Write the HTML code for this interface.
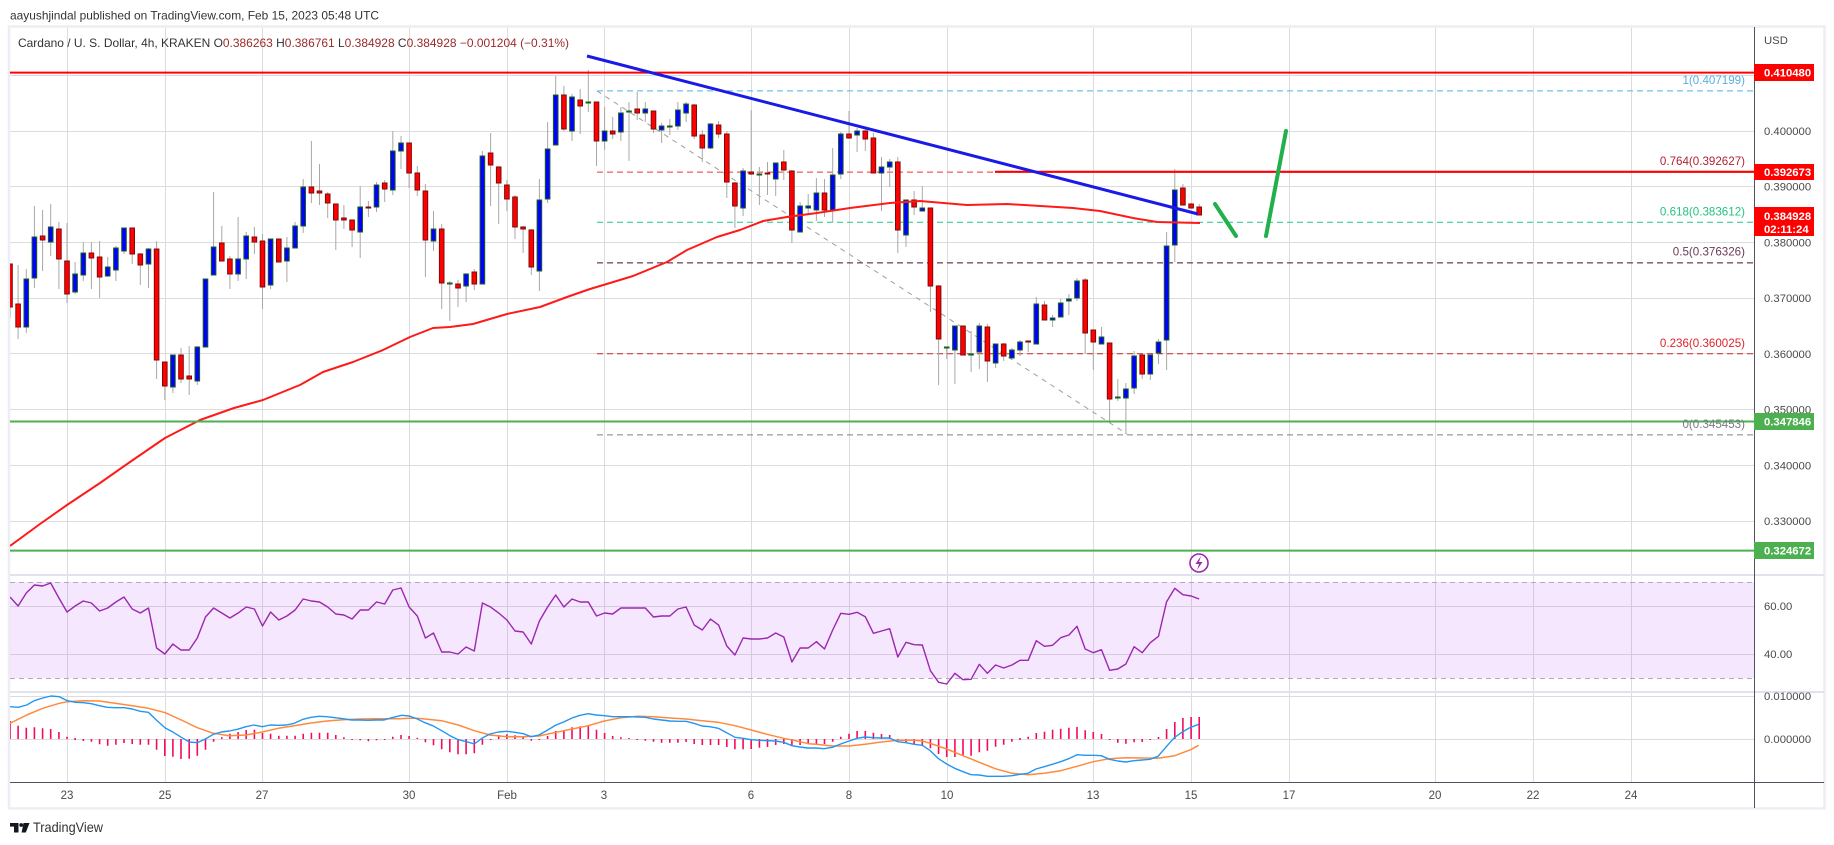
<!DOCTYPE html>
<html><head><meta charset="utf-8"><style>
html,body{margin:0;padding:0;background:#fff;overflow:hidden;}
svg{display:block;font-family:"Liberation Sans",Arial,sans-serif;}
</style></head><body>
<svg width="1834" height="845" viewBox="0 0 1834 845" xmlns="http://www.w3.org/2000/svg">
<defs>
<clipPath id="mainclip"><rect x="10" y="28" width="1744" height="547"/></clipPath>
<clipPath id="rsiclip"><rect x="10" y="576" width="1744" height="115"/></clipPath>
<clipPath id="macdclip"><rect x="10" y="693" width="1744" height="89"/></clipPath>
</defs>
<rect width="1834" height="845" fill="#fff"/>
<text x="10" y="19.5" font-size="11.6" fill="#333" textLength="369" lengthAdjust="spacingAndGlyphs">aayushjindal published on TradingView.com, Feb 15, 2023 05:48 UTC</text>
<rect x="9" y="26.5" width="1815.5" height="782" fill="none" stroke="#eceef3" stroke-width="2.5"/>
<g stroke="#dcdcdc" stroke-width="1">
<line x1="10" y1="75.5" x2="1754" y2="75.5"/><line x1="10" y1="131.5" x2="1754" y2="131.5"/><line x1="10" y1="186.5" x2="1754" y2="186.5"/><line x1="10" y1="242.5" x2="1754" y2="242.5"/><line x1="10" y1="298.5" x2="1754" y2="298.5"/><line x1="10" y1="353.5" x2="1754" y2="353.5"/><line x1="10" y1="409.5" x2="1754" y2="409.5"/><line x1="10" y1="465.5" x2="1754" y2="465.5"/><line x1="10" y1="521.5" x2="1754" y2="521.5"/>
<line x1="10" y1="606.5" x2="1754" y2="606.5"/><line x1="10" y1="654.5" x2="1754" y2="654.5"/><line x1="10" y1="696.5" x2="1754" y2="696.5"/><line x1="10" y1="739.5" x2="1754" y2="739.5"/>
<line x1="67.5" y1="28" x2="67.5" y2="782"/><line x1="165.5" y1="28" x2="165.5" y2="782"/><line x1="262.5" y1="28" x2="262.5" y2="782"/><line x1="409.5" y1="28" x2="409.5" y2="782"/><line x1="507.5" y1="28" x2="507.5" y2="782"/><line x1="604.5" y1="28" x2="604.5" y2="782"/><line x1="751.5" y1="28" x2="751.5" y2="782"/><line x1="849.5" y1="28" x2="849.5" y2="782"/><line x1="947.5" y1="28" x2="947.5" y2="782"/><line x1="1093.5" y1="28" x2="1093.5" y2="782"/><line x1="1191.5" y1="28" x2="1191.5" y2="782"/><line x1="1289.5" y1="28" x2="1289.5" y2="782"/><line x1="1435.5" y1="28" x2="1435.5" y2="782"/><line x1="1533.5" y1="28" x2="1533.5" y2="782"/><line x1="1631.5" y1="28" x2="1631.5" y2="782"/>
</g>
<rect x="10" y="582" width="1744" height="96" fill="rgba(170,60,240,0.12)"/>
<g stroke="#b4a8bc" stroke-width="1" stroke-dasharray="5,4">
<line x1="10" y1="582.5" x2="1754" y2="582.5"/><line x1="10" y1="678.5" x2="1754" y2="678.5"/>
</g>
<g stroke="#e0e3eb" stroke-width="2">
<line x1="10" y1="575" x2="1824" y2="575"/><line x1="10" y1="692" x2="1824" y2="692"/>
</g>
<line x1="1754.5" y1="27" x2="1754.5" y2="808" stroke="#50535e" stroke-width="1"/>
<line x1="10" y1="782.5" x2="1824" y2="782.5" stroke="#50535e" stroke-width="1"/>
<g clip-path="url(#mainclip)" fill="none" stroke-width="1" stroke-dasharray="6,4">
<line x1="597" y1="90.9" x2="1754" y2="90.9" stroke="#4fb3e8"/>
<line x1="597" y1="172.1" x2="1754" y2="172.1" stroke="#e53935"/>
<line x1="597" y1="222.3" x2="1754" y2="222.3" stroke="#22c48f"/>
<line x1="597" y1="262.9" x2="1754" y2="262.9" stroke="#4a0f2a"/>
<line x1="597" y1="353.7" x2="1754" y2="353.7" stroke="#c62828"/>
<line x1="597" y1="434.9" x2="1754" y2="434.9" stroke="#808080"/>
<line x1="597" y1="91" x2="1127" y2="434" stroke="#9e9e9e" stroke-dasharray="5,5"/>
</g>
<g clip-path="url(#mainclip)">
<path fill="none" stroke="#a8a8a8" stroke-width="1" d="M10 264V318M18.1 265V339M26.3 269V333M34.4 206V288M42.6 210V271M50.7 204V256M58.9 222V289M67 223V303M75.1 262V294M83.3 242V281M91.4 242V289M99.6 241V298M107.7 257V277M115.9 246V281M124 228V254M132.2 228V264M140.3 253V285M148.5 248V288M156.6 241V379M164.8 362V400M172.9 355V393M181 348V383M189.2 346V395M197.3 346V385M205.5 279V347M213.6 192V275M221.8 226V261M229.9 256V289M238.1 217V281M246.2 232V279M254.4 227V254M262.5 234V309M270.6 239V289M278.8 239V262M286.9 237V282M295.1 222V248M303.2 179V233M311.4 141V203M319.5 164V205M327.7 192V218M335.8 204V250M343.9 205V229M352.1 220V247M360.2 186V258M368.4 201V217M376.5 182V212M384.7 180V202M392.8 131V195M401 136V169M409.1 143V188M417.3 166V196M425.4 184V277M433.5 211V251M441.7 224V309M449.8 281V321M458 280V307M466.1 273V302M474.3 269V290M482.4 151V284M490.6 133V206M498.7 166V224M506.9 180V211M515 195V239M523.1 226V253M531.3 229V275M539.4 179V291M547.6 122V203M555.7 76V145M563.9 86V131M572 94V141M580.2 89V134M588.3 70V112M596.5 102V166M604.6 107V150M612.7 117V139M620.9 107V141M629 102V161M637.2 92V120M645.3 102V122M653.5 111V133M661.6 123V143M669.8 119V135M677.9 102V130M686.1 102V122M694.2 104V139M702.3 130V162M710.5 123V149M718.6 121V138M726.8 131V198M734.9 182V228M743.1 168V216M751.2 110V175M759.4 167V205M767.5 162V195M775.7 163V196M783.8 150V180M791.9 170V243M800.1 202V232M808.2 194V213M816.4 178V221M824.5 179V217M832.7 148V222M840.8 132V179M849 111V139M857.1 128V152M865.3 129V151M873.4 133V173M881.5 157V211M889.7 159V187M897.8 157V253M906 200V247M914.1 191V215M922.3 186V211M930.4 208V312M938.6 285V385M946.7 347V359M954.9 326V384M963 326V355M971.1 331V372M979.3 323V369M987.4 324V382M995.6 344V368M1003.7 343V361M1011.9 348V358M1020 340V356M1028.2 341V352M1036.3 297V344M1044.5 301V320M1052.6 315V327M1060.7 299V317M1068.9 294V315M1077 278V301M1085.2 278V354M1093.3 330V370M1101.5 327V344M1109.6 343V422M1117.8 379V401M1125.9 383V434M1134.1 351V394M1142.2 355V379M1150.3 355V380M1158.5 339V364M1166.6 232V370M1174.8 169V262M1182.9 184V205M1191.1 203V208M1199.2 204V215"/>
<path fill="#0000ff" stroke="#1b5e20" stroke-width="1" d="M24.0 279h4.6v48h-4.6zM32.1 237h4.6v41h-4.6zM48.4 227h4.6v15h-4.6zM72.8 274h4.6v18h-4.6zM81.0 253h4.6v22h-4.6zM105.4 267h4.6v9h-4.6zM113.6 248h4.6v22h-4.6zM121.7 228h4.6v23h-4.6zM146.2 249h4.6v15h-4.6zM170.6 355h4.6v32h-4.6zM195.0 347h4.6v34h-4.6zM203.2 279h4.6v68h-4.6zM211.3 247h4.6v28h-4.6zM235.8 259h4.6v15h-4.6zM243.9 236h4.6v23h-4.6zM268.3 239h4.6v46h-4.6zM284.6 248h4.6v13h-4.6zM292.8 226h4.6v22h-4.6zM300.9 187h4.6v39h-4.6zM357.9 207h4.6v25h-4.6zM374.2 185h4.6v22h-4.6zM390.5 151h4.6v39h-4.6zM398.7 143h4.6v8h-4.6zM431.2 229h4.6v12h-4.6zM447.5 283h4.6v1h-4.6zM463.8 274h4.6v12h-4.6zM480.1 156h4.6v128h-4.6zM537.1 200h4.6v71h-4.6zM545.3 149h4.6v50h-4.6zM553.4 95h4.6v50h-4.6zM569.7 97h4.6v34h-4.6zM586.0 102h4.6v1h-4.6zM602.3 131h4.6v10h-4.6zM618.6 113h4.6v19h-4.6zM626.7 111h4.6v1h-4.6zM643.0 109h4.6v4h-4.6zM659.3 126h4.6v4h-4.6zM667.5 126h4.6v1h-4.6zM675.6 110h4.6v16h-4.6zM683.8 104h4.6v9h-4.6zM708.2 124h4.6v24h-4.6zM740.8 171h4.6v37h-4.6zM757.1 174h4.6v1h-4.6zM773.4 163h4.6v16h-4.6zM797.8 206h4.6v26h-4.6zM805.9 206h4.6v2h-4.6zM814.1 193h4.6v17h-4.6zM830.4 175h4.6v35h-4.6zM838.5 134h4.6v40h-4.6zM854.8 131h4.6v4h-4.6zM879.2 167h4.6v6h-4.6zM887.4 162h4.6v5h-4.6zM903.7 200h4.6v35h-4.6zM920.0 208h4.6v3h-4.6zM944.4 347h4.6v1h-4.6zM952.6 326h4.6v24h-4.6zM968.8 354h4.6v1h-4.6zM977.0 326h4.6v26h-4.6zM993.3 344h4.6v19h-4.6zM1009.6 350h4.6v8h-4.6zM1017.7 342h4.6v8h-4.6zM1034.0 304h4.6v40h-4.6zM1050.3 318h4.6v2h-4.6zM1058.4 303h4.6v14h-4.6zM1066.6 299h4.6v2h-4.6zM1074.7 281h4.6v17h-4.6zM1099.2 337h4.6v7h-4.6zM1115.5 397h4.6v1h-4.6zM1123.6 389h4.6v9h-4.6zM1131.8 356h4.6v32h-4.6zM1148.0 355h4.6v19h-4.6zM1156.2 342h4.6v11h-4.6zM1164.3 246h4.6v94h-4.6zM1172.5 190h4.6v55h-4.6z"/>
<path fill="#ff0000" stroke="#7f0a0a" stroke-width="1" d="M7.7 264h4.6v43h-4.6zM15.8 304h4.6v23h-4.6zM40.3 236h4.6v4h-4.6zM56.6 229h4.6v30h-4.6zM64.7 261h4.6v33h-4.6zM89.1 253h4.6v5h-4.6zM97.3 257h4.6v20h-4.6zM129.9 228h4.6v26h-4.6zM138.0 254h4.6v11h-4.6zM154.3 249h4.6v111h-4.6zM162.5 362h4.6v24h-4.6zM178.7 355h4.6v24h-4.6zM186.9 376h4.6v3h-4.6zM219.5 243h4.6v18h-4.6zM227.6 259h4.6v15h-4.6zM252.1 237h4.6v5h-4.6zM260.2 241h4.6v46h-4.6zM276.5 239h4.6v23h-4.6zM309.1 187h4.6v6h-4.6zM317.2 191h4.6v2h-4.6zM325.4 194h4.6v9h-4.6zM333.5 204h4.6v16h-4.6zM341.6 218h4.6v2h-4.6zM349.8 220h4.6v10h-4.6zM366.1 207h4.6v1h-4.6zM382.4 183h4.6v6h-4.6zM406.8 143h4.6v30h-4.6zM415.0 173h4.6v17h-4.6zM423.1 191h4.6v49h-4.6zM439.4 229h4.6v54h-4.6zM455.7 284h4.6v4h-4.6zM472.0 272h4.6v12h-4.6zM488.3 153h4.6v12h-4.6zM496.4 167h4.6v16h-4.6zM504.6 185h4.6v14h-4.6zM512.7 197h4.6v30h-4.6zM520.8 227h4.6v2h-4.6zM529.0 230h4.6v37h-4.6zM561.6 95h4.6v34h-4.6zM577.9 100h4.6v6h-4.6zM594.2 102h4.6v39h-4.6zM610.4 131h4.6v3h-4.6zM634.9 109h4.6v4h-4.6zM651.2 111h4.6v18h-4.6zM691.9 105h4.6v31h-4.6zM700.0 135h4.6v13h-4.6zM716.3 125h4.6v9h-4.6zM724.5 134h4.6v48h-4.6zM732.6 183h4.6v23h-4.6zM748.9 172h4.6v2h-4.6zM765.2 173h4.6v1h-4.6zM781.5 162h4.6v8h-4.6zM789.6 171h4.6v59h-4.6zM822.2 193h4.6v17h-4.6zM846.7 134h4.6v4h-4.6zM863.0 131h4.6v8h-4.6zM871.1 138h4.6v35h-4.6zM895.5 162h4.6v68h-4.6zM911.8 200h4.6v7h-4.6zM928.1 208h4.6v78h-4.6zM936.3 286h4.6v53h-4.6zM960.7 326h4.6v29h-4.6zM985.1 327h4.6v34h-4.6zM1001.4 344h4.6v12h-4.6zM1025.9 341h4.6v1h-4.6zM1042.2 305h4.6v15h-4.6zM1082.9 280h4.6v53h-4.6zM1091.0 330h4.6v12h-4.6zM1107.3 343h4.6v56h-4.6zM1139.9 355h4.6v19h-4.6zM1180.6 188h4.6v17h-4.6zM1188.8 204h4.6v4h-4.6zM1196.9 207h4.6v8h-4.6z"/>
<polyline fill="none" stroke="#ff1a1a" stroke-width="2" stroke-linejoin="round" points="10,546 40,524 67,505 100,483 130,462 165,438 200,420 234,408 263,400 290,389 300,385 323,372 353,362 383,350 410,337 433,328 450,327 473,324 507,314 540,307 567,297 590,289 610,283 633,276 667,262 687,250 717,237 740,230 763,221 787,217 817,213 850,208 890,203 920,201 967,205 1007,204 1073,208 1100,211 1133,218 1157,222 1200,223"/>
<line x1="10" y1="72.6" x2="1754" y2="72.6" stroke="#ff0000" stroke-width="2"/>
<line x1="995" y1="171.8" x2="1754" y2="171.8" stroke="#ff0000" stroke-width="2.2"/>
<line x1="10" y1="421.5" x2="1754" y2="421.5" stroke="#4caf50" stroke-width="2"/>
<line x1="10" y1="550.6" x2="1754" y2="550.6" stroke="#4caf50" stroke-width="2"/>
<line x1="587" y1="56" x2="1198" y2="214" stroke="#1a1ae6" stroke-width="3"/>
<line x1="1215" y1="204" x2="1236" y2="236" stroke="#22b04d" stroke-width="4" stroke-linecap="round"/>
<line x1="1266" y1="236" x2="1286" y2="131" stroke="#22b04d" stroke-width="4" stroke-linecap="round"/>
</g>
<g clip-path="url(#rsiclip)">
<polyline fill="none" stroke="#9c27b0" stroke-width="1.4" stroke-linejoin="round" points="10,597 18.1,606 26.3,593 34.4,585 42.6,586 50.7,583 58.9,598 67,612 75.1,606 83.3,601 91.4,603 99.6,611 107.7,608 115.9,602 124,597 132.2,609 140.3,613 148.5,608 156.6,648 164.8,654 172.9,644 181,650 189.2,650 197.3,638 205.5,617 213.6,608 221.8,613 229.9,618 238.1,613 246.2,607 254.4,609 262.5,626 270.6,612 278.8,620 286.9,616 295.1,610 303.2,599 311.4,601 319.5,602 327.7,607 335.8,614 343.9,615 352.1,619 360.2,610 368.4,610 376.5,602 384.7,604 392.8,590 401,588 409.1,607 417.3,616 425.4,638 433.5,633 441.7,652 449.8,652 458,654 466.1,647 474.3,651 482.4,603 490.6,607 498.7,613 506.9,620 515,631 523.1,632 531.3,644 539.4,621 547.6,607 555.7,595 563.9,607 572,599 580.2,602 588.3,602 596.5,616 604.6,613 612.7,614 620.9,608 629,608 637.2,608 645.3,608 653.5,617 661.6,616 669.8,616 677.9,609 686.1,607 694.2,625 702.3,630 710.5,619 718.6,625 726.8,646 734.9,655 743.1,638 751.2,639 759.4,639 767.5,638 775.7,633 783.8,637 791.9,662 800.1,648 808.2,648 816.4,641.7 824.5,649 832.7,630 840.8,613.3 849,614.3 857.1,612.3 865.3,616.7 873.4,633.3 881.5,631 889.7,628.7 897.8,657 906,642.3 914.1,644.7 922.3,645 930.4,670.7 938.6,682.3 946.7,684 954.9,673.3 963,679.7 971.1,679.3 979.3,664.3 987.4,673.3 995.6,665 1003.7,668 1011.9,665 1020,660.3 1028.2,660.3 1036.3,640.7 1044.5,646.3 1052.6,645.3 1060.7,637.7 1068.9,635 1077,626.3 1085.2,649 1093.3,652.7 1101.5,649.7 1109.6,670.3 1117.8,669 1125.9,664 1134.1,646.7 1142.2,652.7 1150.3,642.7 1158.5,636.3 1166.6,601.7 1174.8,588.3 1182.9,594.7 1191.1,596 1199.2,599"/>
</g>
<g clip-path="url(#macdclip)">
<path fill="none" stroke="#f50a5f" stroke-width="1.6" d="M10 721V739M18.1 725.7V739M26.3 727.7V739M34.4 727.3V739M42.6 728.3V739M50.7 729V739M58.9 732V739M67 736.7V739M75.1 738V740M83.3 739V741M91.4 739V741.7M99.6 739V744.3M107.7 739V745.7M115.9 739V744.7M124 739V743M132.2 739V744M140.3 739V744.7M148.5 739V744.7M156.6 739V749.7M164.8 739V756M172.9 739V756.7M181 739V759M189.2 739V758.7M197.3 739V755.7M205.5 739V749.7M213.6 739V741.7M221.8 737.3V739M229.9 733.7V739M238.1 732V739M246.2 730V739M254.4 729.7V739M262.5 733V739M270.6 733.7V739M278.8 735.7V739M286.9 735.7V739M295.1 735.7V739M303.2 733.7V739M311.4 732.7V739M319.5 732.7V739M327.7 732.7V739M335.8 735V739M343.9 737.3V739M352.1 739V740M360.2 739V740.3M368.4 739V741.3M376.5 739V740.3M384.7 739V740M392.8 736.7V739M401 735V739M409.1 736V739M417.3 737.7V739M425.4 739V742.3M433.5 739V745.3M441.7 739V749.3M449.8 739V752.3M458 739V754.3M466.1 739V754.3M474.3 739V753.3M482.4 739V744.7M490.6 739V740M498.7 735V739M506.9 734.3V739M515 735.3V739M523.1 736V739M531.3 739V740.7M539.4 739V740M547.6 736V739M555.7 731V739M563.9 730V739M572 727.3V739M580.2 726.3V739M588.3 725.7V739M596.5 729.7V739M604.6 733V739M612.7 736V739M620.9 737.3V739M629 738V739M637.2 739V740M645.3 739V740.7M653.5 739V741.7M661.6 739V742.7M669.8 739V742.7M677.9 739V742.7M686.1 739V742M694.2 739V744M702.3 739V745M710.5 739V745M718.6 739V745M726.8 739V747M734.9 739V749.3M743.1 739V749.3M751.2 739V749M759.4 739V747.7M767.5 739V747M775.7 739V745M783.8 739V744M791.9 739V746M800.1 739V745M808.2 739V744.3M816.4 739V744.3M824.5 739V744M832.7 739V741.7M840.8 736.7V739M849 733.7V739M857.1 731V739M865.3 731V739M873.4 732.7V739M881.5 734V739M889.7 735V739M897.8 739V740.7M906 739V742.3M914.1 739V744.3M922.3 739V745M930.4 739V748.3M938.6 739V754M946.7 739V757M954.9 739V757M963 739V756M971.1 739V755.7M979.3 739V752.3M987.4 739V750.7M995.6 739V746.7M1003.7 739V744.7M1011.9 739V741.7M1020 738V740M1028.2 736.7V739M1036.3 733V739M1044.5 731.7V739M1052.6 729.7V739M1060.7 728.7V739M1068.9 727.7V739M1077 727V739M1085.2 730.3V739M1093.3 732V739M1101.5 734V739M1109.6 739V740M1117.8 739V742.7M1125.9 739V743.7M1134.1 739V742.3M1142.2 739V742M1150.3 739V740M1158.5 737V739M1166.6 729V739M1174.8 722V739M1182.9 718V739M1191.1 717V739M1199.2 717V739"/>
<polyline fill="none" stroke="#ff8a3d" stroke-width="1.5" stroke-linejoin="round" points="10,723.3 26.7,715 42.7,708.3 59.3,703.3 67.3,701.7 83.3,700.7 99.3,701 115.3,703.3 132.3,705.7 148.3,708.3 165.3,712.7 181.3,720 197.3,727.7 213.3,733.3 229.3,735.7 246,735 262.3,732 278.3,728.3 294.3,725.7 311,723 327,721 343,719.7 360,719 376,718.7 392,718.7 400,718.7 409.3,718.3 417.3,718.3 425,719 441.7,720.7 458.3,725 474.3,730.7 490,735 506.7,736.7 523.3,736.7 539,736 556,732.3 572,729 588.3,725.7 604.3,721 621.3,717.7 637.3,716.3 653.3,716.7 670,718 686,719 702,720.7 718.3,722.3 735,725.7 751.3,730 767,734.3 783.7,738.3 800,741.7 808.7,743.7 816,744.3 832.3,746 849,746 865,744.3 881.3,742 897.7,740.3 914.3,740.3 922.3,741 930.3,743.3 946.7,749 963,755.7 979.3,762.3 995.3,768.7 1012,773.3 1028,774.7 1044.3,773.3 1060.7,770.7 1077,766.3 1093.3,761.7 1109.3,758.7 1125.7,757.7 1142,758 1158,758.3 1174.7,755.7 1190.7,749.7 1198.7,745.3"/>
<polyline fill="none" stroke="#2196f3" stroke-width="1.4" stroke-linejoin="round" points="10,706.7 18.3,707.3 26.7,705 34.3,700.7 42.7,698 51,696 59.3,696.7 67.3,700.7 75.3,702.3 83.3,702.7 91.3,703.7 99.3,705.7 107.3,707.3 115.3,707.7 124.3,707.7 132.3,709 140.3,711.3 148.3,712.3 156.3,720 165.3,728 173.3,732.3 181.3,737.3 189.3,742 197.3,742.7 205.3,739 213.3,734.3 221.3,732 229.3,731 237.3,729.3 246,726.7 254,725 262.3,726.7 270.3,725 278.3,725.3 286.3,725 294.3,723.3 303,719.3 311,717.3 319,716.3 327,716.7 335,717.7 343,718.7 351.7,720 360,720 368,720.3 376,720 384,720 392,717.7 401.7,715.3 409.3,716 417.3,719 425,722.7 432.7,725.7 441.7,730.7 450,735.7 458.3,739.7 466.7,741.7 474.3,744 482.3,738 490,734 498.3,732 506.7,731.3 515,732.3 523.3,733.7 531,736.7 539,735 547.7,730 556,725 563.7,722 572,718 580,715.3 588.3,713.7 596,715 604.3,715.7 612.7,716.7 621.3,716.7 629.3,716.7 637.3,717 645.3,717.3 653.3,719 661.7,720 670,721 678,721.3 686,721.3 694,723.3 702,726 710,726.7 718.3,728.3 726.7,732.7 735,737.3 743,738.3 751.3,739.7 759.7,740.3 767,740.7 775.3,741 783.7,742.3 792,745.7 800,747 807.3,748 816,748 824,748.7 832.3,747.3 840.7,744 849,741 857.3,738.3 865,737 873,737.7 881.3,738 889.3,738 897.7,741.7 906,742.7 914.3,744.3 922.3,745.3 930.3,750.7 938,758.3 946.7,764 954.7,768.3 963,771.7 971,774.7 979.3,775 987.3,776.3 995.3,776.3 1003.7,776.3 1012,775.7 1020,774.3 1028,773.3 1036,769 1044.3,766.7 1052.3,764.3 1060.7,761.7 1068.7,758.7 1077,754.7 1085,755.3 1093.3,755.3 1101.3,755.7 1109.3,759.3 1117.7,761 1125.7,762 1134,760.7 1142,760 1150,759.3 1158,756.3 1166.3,746.7 1174.7,737.3 1182.7,731.7 1190.7,727.3 1198.7,724.3"/>
</g>
<g font-size="11.6" text-anchor="end">
<text x="1745" y="84" fill="#5aaee0">1(0.407199)</text>
<text x="1745" y="165" fill="#b22234">0.764(0.392627)</text>
<text x="1745" y="215.5" fill="#26c281">0.618(0.383612)</text>
<text x="1745" y="255.5" fill="#6b3b55">0.5(0.376326)</text>
<text x="1745" y="347" fill="#e0242c">0.236(0.360025)</text>
<text x="1745" y="428" fill="#787b86">0(0.345453)</text>
</g>
<text x="18" y="47" font-size="11.6" fill="#333" textLength="551" lengthAdjust="spacingAndGlyphs">Cardano / U. S. Dollar, 4h, KRAKEN  O<tspan fill="#9a2a2a">0.386263</tspan>  H<tspan fill="#9a2a2a">0.386761</tspan>  L<tspan fill="#9a2a2a">0.384928</tspan>  C<tspan fill="#9a2a2a">0.384928</tspan>  <tspan fill="#9a2a2a">−0.001204 (−0.31%)</tspan></text>
<g font-size="11.3" fill="#4a4a4a">
<text x="1764" y="44">USD</text>
<text x="1764" y="135">0.400000</text>
<text x="1764" y="190.7">0.390000</text>
<text x="1764" y="246.4">0.380000</text>
<text x="1764" y="302.1">0.370000</text>
<text x="1764" y="357.9">0.360000</text>
<text x="1764" y="413.6">0.350000</text>
<text x="1764" y="469.3">0.340000</text>
<text x="1764" y="525">0.330000</text>
<text x="1764" y="610">60.00</text>
<text x="1764" y="658">40.00</text>
<text x="1764" y="700">0.010000</text>
<text x="1764" y="743">0.000000</text>
</g>
<g font-size="11.3" font-weight="bold" fill="#fff">
<rect x="1754" y="64" width="60" height="17" fill="#ff0000"/><text x="1764" y="76.5">0.410480</text>
<rect x="1754" y="164" width="60" height="16" fill="#ff0000"/><text x="1764" y="176">0.392673</text>
<rect x="1754" y="207" width="60" height="29" fill="#ff0000"/><text x="1764" y="220">0.384928</text><text x="1764" y="233">02:11:24</text>
<rect x="1754" y="413" width="60" height="17" fill="#4caf50"/><text x="1764" y="425.5">0.347846</text>
<rect x="1754" y="542" width="60" height="17" fill="#4caf50"/><text x="1764" y="554.5">0.324672</text>
</g>
<g font-size="11.5" fill="#4a4a4a" text-anchor="middle">
<text x="67" y="799">23</text><text x="165" y="799">25</text><text x="262" y="799">27</text><text x="409" y="799">30</text>
<text x="507" y="799">Feb</text><text x="604" y="799">3</text><text x="751" y="799">6</text><text x="849" y="799">8</text>
<text x="947" y="799">10</text><text x="1093" y="799">13</text><text x="1191" y="799">15</text><text x="1289" y="799">17</text>
<text x="1435" y="799">20</text><text x="1533" y="799">22</text><text x="1631" y="799">24</text>
</g>
<circle cx="1199" cy="563" r="9" fill="#fff" stroke="#9c27b0" stroke-width="1.6"/>
<path d="M1201 556 L1195.5 564 L1199 564 L1197 570 L1202.5 562 L1199 562 Z" fill="#9c27b0"/>
<g fill="#131722">
<rect x="10" y="823" width="8.5" height="3.6"/><rect x="14" y="823" width="4.5" height="9.5"/>
<circle cx="21.2" cy="825" r="1.9"/>
<polygon points="23.5,823 29.5,823 25.8,832.5 21.6,832.5"/>
</g>
<text x="33" y="832" font-size="14" fill="#333" textLength="70" lengthAdjust="spacingAndGlyphs">TradingView</text>
</svg>
</body></html>
